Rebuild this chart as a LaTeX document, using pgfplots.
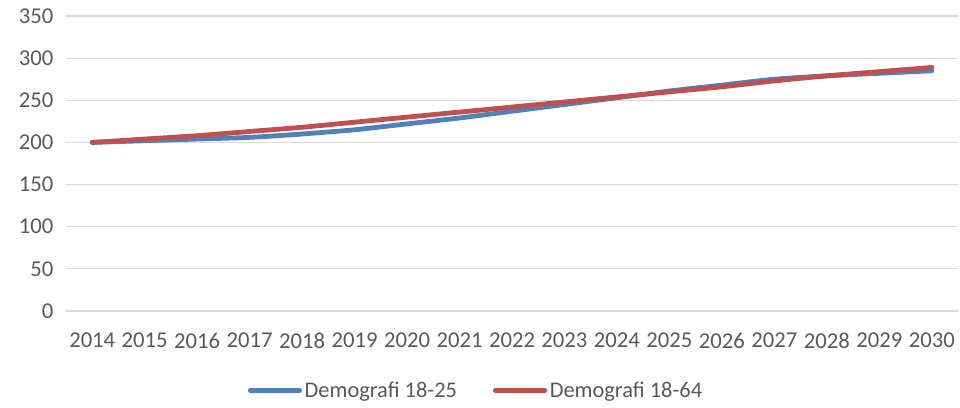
\documentclass[border=0pt]{standalone}
\usepackage{pgfplots}
\pgfplotsset{compat=1.18}
\usepackage{fontspec}
\setmainfont{Carlito}
\definecolor{cblue}{HTML}{4F81BD}
\definecolor{cred}{HTML}{C0504D}
\definecolor{cgrid}{HTML}{D9D9D9}
\definecolor{ctext}{HTML}{595959}
\begin{document}
\begin{tikzpicture}
\begin{axis}[
  name=ax,
  scale only axis, width=669pt, height=221.25pt,
  xmin=-0.5, xmax=16.5, ymin=0, ymax=350,
  xtick={0,...,16},
  xticklabels={2014,2015,2016,2017,2018,2019,2020,2021,2022,2023,2024,2025,2026,2027,2028,2029,2030},
  ytick={0,50,...,350},
  ymajorgrids, grid style={cgrid, line width=0.9pt},
  axis line style={draw=none},
  major tick length=0pt,
  tick label style={font=\fontsize{17}{20}\selectfont, text=ctext},
  /pgf/number format/assume math mode=true,
  yticklabel style={xshift=-6pt},
  xticklabel style={yshift=-13pt},
  legend style={at={(0.46,-0.27)}, anchor=center, draw=none, font=\fontsize{16.8}{20}\selectfont, text=ctext, legend columns=2, /tikz/every even column/.append style={column sep=25pt}},
  legend image code/.code={\draw[#1, line cap=round] (0pt,0pt) -- (37pt,0pt);},
  clip=false,
]
\addplot[cblue, line width=3.6pt, smooth, tension=0.4, line cap=round] coordinates {
(0,200) (1,202) (2,204) (3,206) (4,210) (5,215) (6,222) (7,229) (8,237) (9,245) (10,253) (11,261) (12,268) (13,275) (14,279) (15,282) (16,285)};
\addlegendentry{Demografi 18-25}
\addplot[cred, line width=3.6pt, smooth, tension=0.4, line cap=round] coordinates {
(0,200) (1,204) (2,208) (3,213) (4,218) (5,224) (6,230) (7,236) (8,242) (9,248) (10,254) (11,260) (12,266) (13,273) (14,279) (15,284) (16,289)};
\addlegendentry{Demografi 18-64}
\end{axis}
\useasboundingbox ([xshift=-49.5pt,yshift=-72pt]ax.south west) rectangle ([xshift=1.5pt,yshift=12pt]ax.north east);
\end{tikzpicture}
\end{document}
